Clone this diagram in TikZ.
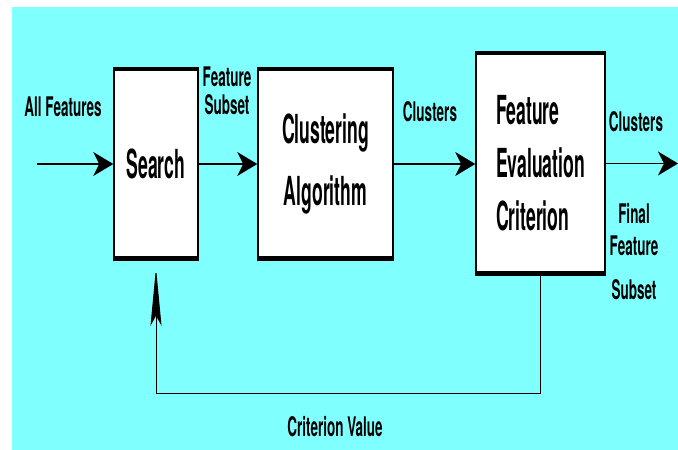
\documentclass[tikz,border=0pt]{standalone}
\usepackage{fontspec}
\usepackage{xcolor}
\usetikzlibrary{arrows.meta,positioning}
\newfontfamily\dgfont[FakeStretch=0.5]{TeX Gyre Heros}
\newfontfamily\dgbigfont[FakeStretch=0.44]{TeX Gyre Heros}
\definecolor{bgcyan}{RGB}{128,255,255}
\tikzset{
  blk/.style ={rectangle, draw=black, line width=1.5pt, fill=white, inner sep=0pt,
               align=center, font=\dgbigfont\bfseries\fontsize{40}{53}\selectfont},
  lbl/.style ={inner sep=0pt, align=center, font=\dgfont\bfseries\fontsize{27}{28}\selectfont},
  ar/.style  ={-{Stealth[length=20pt,width=24pt,inset=6pt]}, line width=1.5pt},
  fb/.style  ={-{Stealth[length=58pt,width=11pt,inset=10pt]}, line width=1pt},
}
\begin{document}
\begin{tikzpicture}[x=1pt,y=-1pt]
\useasboundingbox (0,0) rectangle (678,450);
\fill[white] (0,0) rectangle (678,450);
\fill[bgcyan] (12,7) rectangle (678,450);

% blocks
\node[blk, minimum width=84pt, minimum height=188pt] (srch) at (156,164) {Search};
\node[blk, minimum width=135pt, minimum height=188pt] (clus) at (325.5,164) {Clustering\\[9pt]Algorithm};
\node[blk, minimum width=129pt, minimum height=219pt, align=left] (fec) at (540.5,163.5)
     {Feature\\Evaluation\\Criterion};
\foreach \n in {srch,clus,fec}{
  \draw[line width=4pt] (\n.north west) -- (\n.north east);
  \draw[line width=5pt] (\n.south west) -- (\n.south east);
}

% labels
\node[lbl] (allf) at (63,107) {All Features};
\node[lbl] (fsub) at (227,91) {Feature\\Subset};
\node[lbl] (clu1) at (430,112) {Clusters};
\node[lbl] (clu2) at (636,122) {Clusters};
\node[lbl, font=\dgfont\bfseries\fontsize{27}{32}\selectfont] (ffs) at (634,252) {Final\\Feature\\[12pt]Subset};
\node[lbl] (crit) at (335,427) {Criterion Value};

% connectors
\coordinate (src) at (37,164);
\coordinate (sink) at (678,163);
\coordinate (fbk) at (0,393);
\draw[ar] (src) -- (srch.west);
\draw[ar] (srch) -- (clus);
\draw[ar] (clus.east) -- (fec.west |- clus.east);
\draw[ar] (fec.east) -- (fec.east -| sink);
\draw[fb] (fec.south) -- (fec.south |- fbk) -| ([yshift=-9pt]srch.south);
\end{tikzpicture}
\end{document}
